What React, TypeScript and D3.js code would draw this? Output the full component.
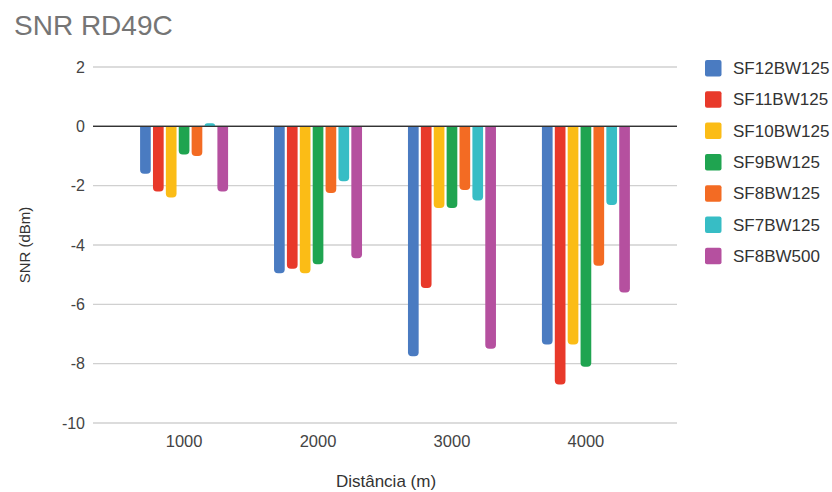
import React from "react";
import * as d3 from "d3";

const title = "SNR RD49C";
const categories = ["1000", "2000", "3000", "4000"];
const seriesNames = ["SF12BW125", "SF11BW125", "SF10BW125", "SF9BW125", "SF8BW125", "SF7BW125", "SF8BW500"];
const sf12bw125 = [-1.6, -4.95, -7.75, -7.35];
const sf11bw125 = [-2.2, -4.8, -5.45, -8.7];
const sf10bw125 = [-2.4, -4.95, -2.75, -7.35];
const sf9bw125 = [-0.95, -4.65, -2.75, -8.1];
const sf8bw125 = [-1.0, -2.25, -2.15, -4.7];
const sf7bw125 = [0.1, -1.85, -2.5, -2.65];
const sf8bw500 = [-2.2, -4.45, -7.5, -5.6];
const yTicks = [2, 0, -2, -4, -6, -8, -10];
const xTitle = "Distância (m)";
const yTitle = "SNR (dBm)";

const seriesValues = [sf12bw125, sf11bw125, sf10bw125, sf9bw125, sf8bw125, sf7bw125, sf8bw500];
const colors = ["#4a7bc1", "#e8392a", "#fbbc16", "#1fa450", "#f36b23", "#37bdc5", "#b5509f"];

const FONT = "Arial, 'Liberation Sans', sans-serif";

// Bar with rounded corners at the far end (away from the baseline)
function barPath(x: number, w: number, y0: number, y1: number, r: number) {
  const h = Math.abs(y1 - y0);
  const rr = Math.min(r, w / 2, h);
  if (y1 >= y0) {
    return `M${x},${y0} L${x + w},${y0} L${x + w},${y1 - rr} Q${x + w},${y1} ${x + w - rr},${y1} L${x + rr},${y1} Q${x},${y1} ${x},${y1 - rr} Z`;
  }
  return `M${x},${y0} L${x},${y1 + rr} Q${x},${y1} ${x + rr},${y1} L${x + w - rr},${y1} Q${x + w},${y1} ${x + w},${y1 + rr} L${x + w},${y0} Z`;
}

export default function App() {
  const width = 832;
  const height = 492;
  const left = 93;
  const right = 677;

  const y = d3.scaleLinear().domain([-10, 2]).range([423, 67]);
  const x = d3.scalePoint<string>().domain(categories).range([left, right]).padding(0.68);
  const inner = d3
    .scaleBand<number>()
    .domain(d3.range(seriesNames.length))
    .range([-44, 44])
    .paddingInner(0.17)
    .paddingOuter(0);

  const y0 = y(0);

  return (
    <svg width={width} height={height} style={{ position: "absolute", left: 0, top: 0, background: "#fff" }}>
      <rect width={width} height={height} fill="#fff" />
      <text x={14} y={35} fontFamily={FONT} fontSize={28} fill="#757575">
        {title}
      </text>

      {/* gridlines */}
      {yTicks.map((t) => (
        <line
          key={t}
          x1={left}
          x2={right}
          y1={y(t)}
          y2={y(t)}
          stroke={t === 0 ? "#333" : "#d0d0d0"}
          strokeWidth={t === 0 ? 1.4 : 1.3}
        />
      ))}

      {/* y tick labels */}
      {yTicks.map((t) => (
        <text
          key={"l" + t}
          x={85}
          y={y(t) + 5.8}
          textAnchor="end"
          fontFamily={FONT}
          fontSize={16}
          fill="#444"
        >
          {t}
        </text>
      ))}

      {/* bars */}
      {categories.map((c, ci) =>
        seriesValues.map((vals, si) => {
          const bx = (x(c) as number) + (inner(si) as number);
          const bw = inner.bandwidth();
          return (
            <path
              key={c + "-" + si}
              d={barPath(bx, bw, y0, y(vals[ci]), 4)}
              fill={colors[si]}
            />
          );
        })
      )}

      {/* zero line on top */}
      <line x1={left} x2={right} y1={y0} y2={y0} stroke="#333" strokeWidth={1.4} />

      {/* x tick labels */}
      {categories.map((c) => (
        <text
          key={"x" + c}
          x={x(c) as number}
          y={447}
          textAnchor="middle"
          fontFamily={FONT}
          fontSize={16.5}
          fill="#444"
        >
          {c}
        </text>
      ))}

      {/* axis titles */}
      <text x={386} y={487} textAnchor="middle" fontFamily={FONT} fontSize={17} fill="#333">
        {xTitle}
      </text>
      <text
        transform={`translate(30,${245}) rotate(-90)`}
        textAnchor="middle"
        fontFamily={FONT}
        fontSize={15}
        fill="#333"
      >
        {yTitle}
      </text>

      {/* legend */}
      {seriesNames.map((name, i) => {
        const cy = 68 + i * 31.3;
        return (
          <g key={name}>
            <rect x={705} y={cy - 8} width={16.5} height={16.5} rx={2} fill={colors[i]} />
            <text x={733} y={cy + 6} fontFamily={FONT} fontSize={17} fill="#333">
              {name}
            </text>
          </g>
        );
      })}
    </svg>
  );
}
